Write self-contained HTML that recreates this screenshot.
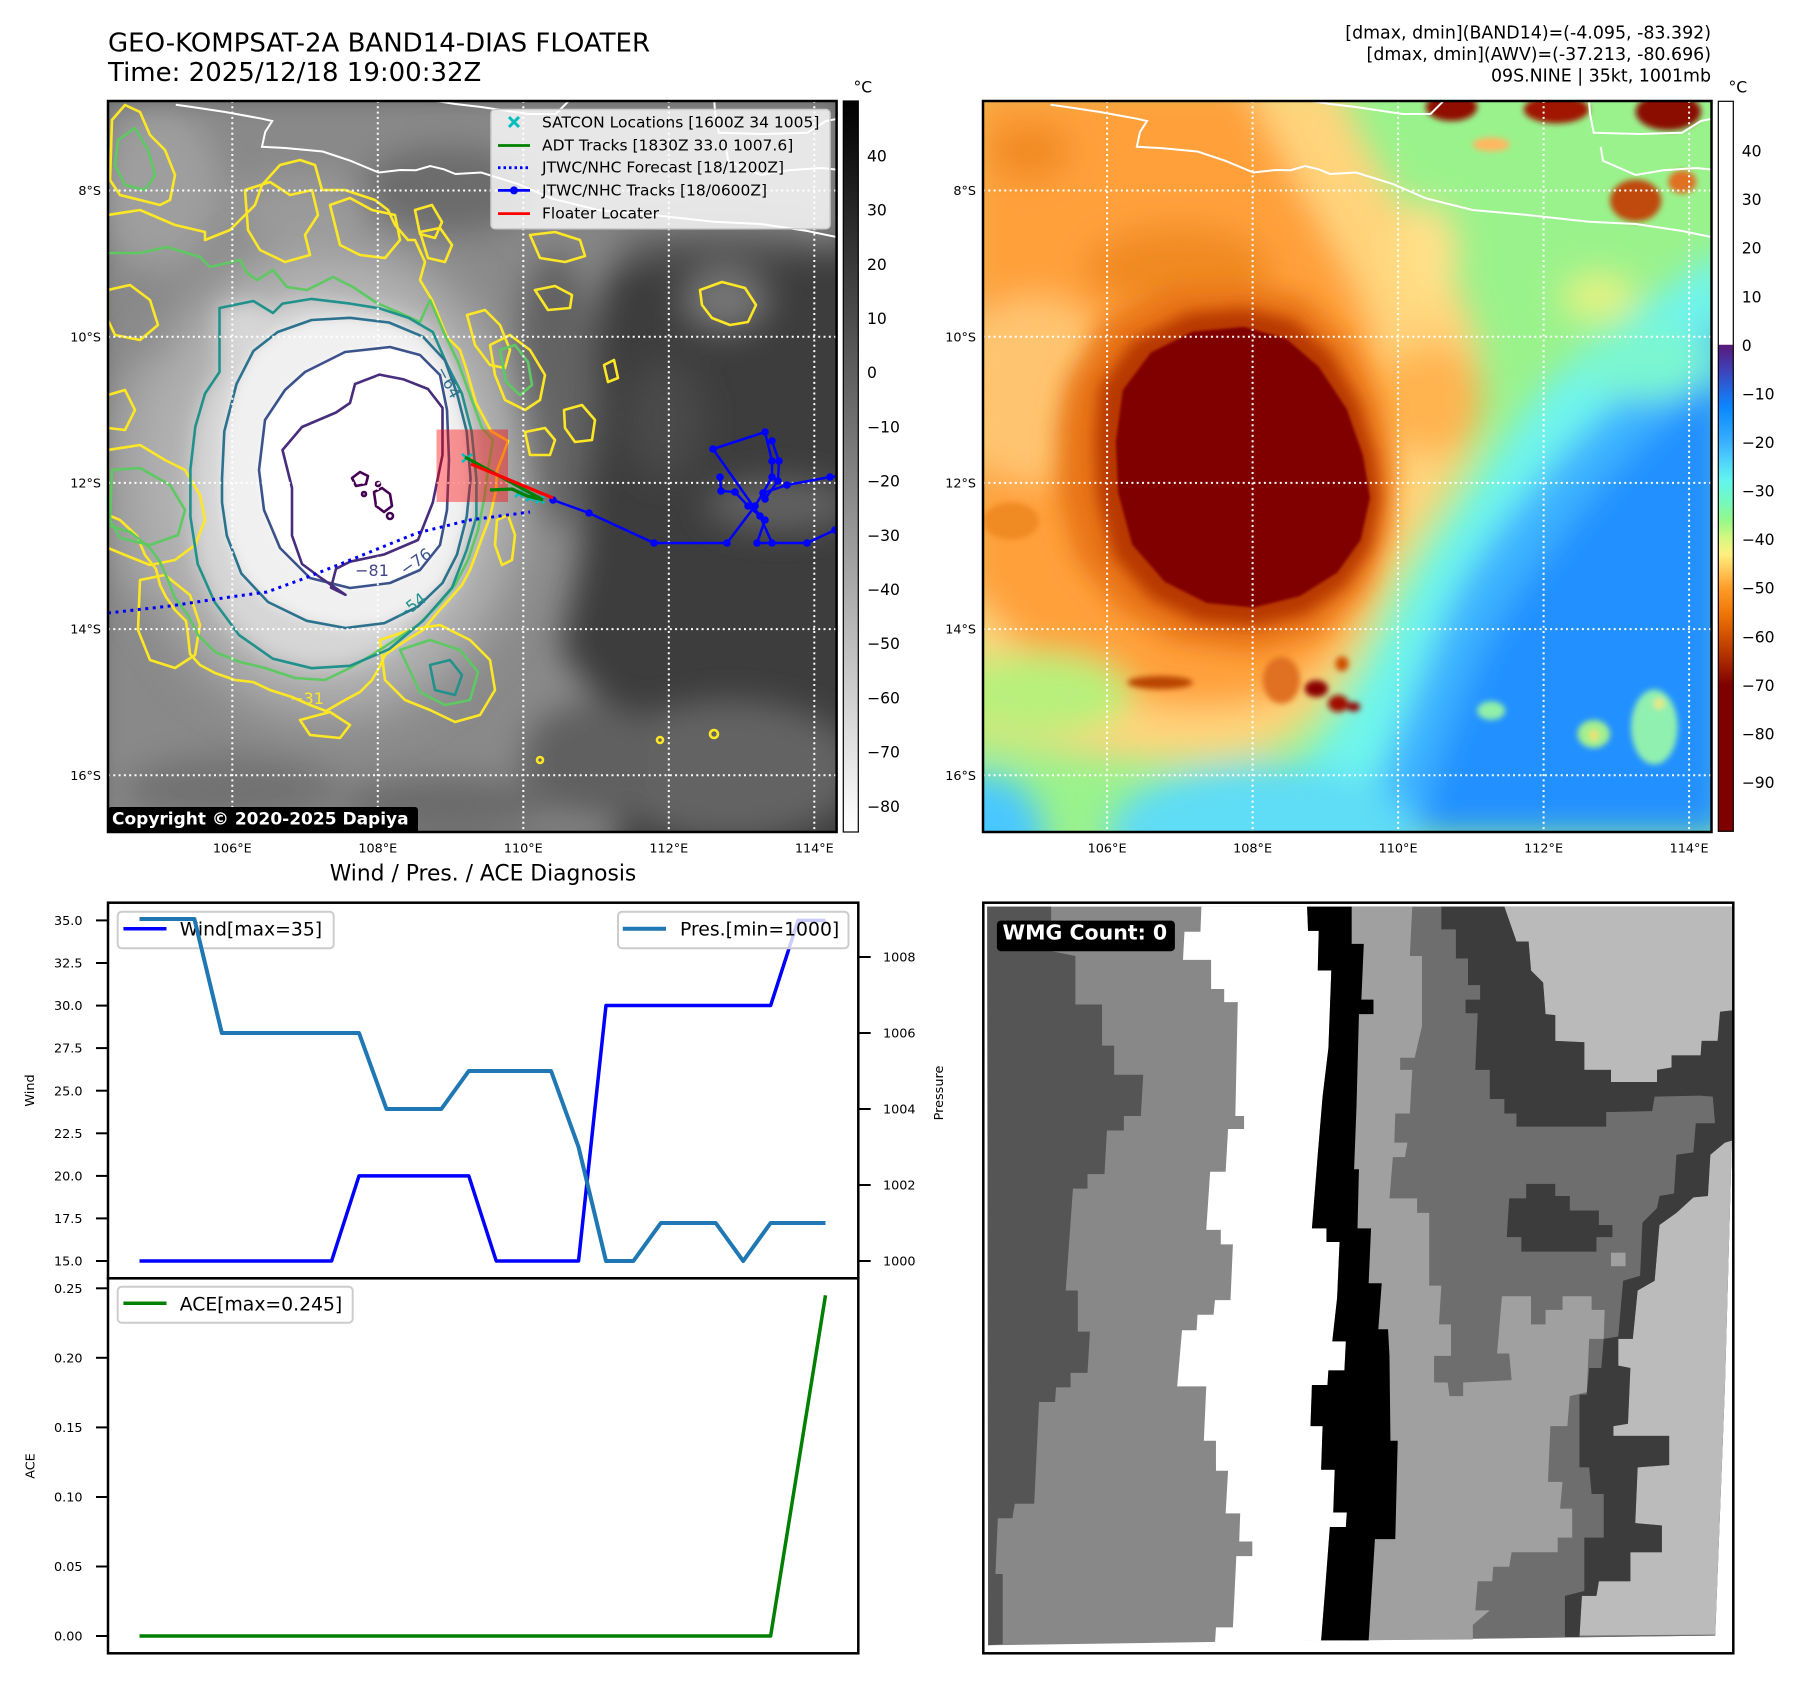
<!DOCTYPE html>
<html><head><meta charset="utf-8"><style>
html,body{margin:0;padding:0;background:#fff;}
svg{display:block;}
text{font-family:"DejaVu Sans","Liberation Sans",sans-serif;}
</style></head><body>
<svg xmlns="http://www.w3.org/2000/svg" width="1801" height="1690" viewBox="0 0 1801 1690">
<defs>
<clipPath id="cm1"><rect x="108" y="101" width="728.6" height="731"/></clipPath>
<clipPath id="cm2"><rect x="983" y="101" width="728.5" height="731"/></clipPath>
<clipPath id="cbr"><rect x="983.3" y="902.7" width="750" height="750.6"/></clipPath>
<clipPath id="cup"><rect x="108" y="902.7" width="750.3" height="375.6"/></clipPath>
<clipPath id="clo"><rect x="108" y="1278.3" width="750.3" height="375"/></clipPath>
<filter id="g3" x="-50%" y="-50%" width="200%" height="200%"><feGaussianBlur stdDeviation="3"/></filter>
<filter id="g6" x="-50%" y="-50%" width="200%" height="200%"><feGaussianBlur stdDeviation="6"/></filter>
<filter id="g10" x="-50%" y="-50%" width="200%" height="200%"><feGaussianBlur stdDeviation="10"/></filter>
<filter id="g16" x="-50%" y="-50%" width="200%" height="200%"><feGaussianBlur stdDeviation="16"/></filter>
<filter id="g25" x="-50%" y="-50%" width="200%" height="200%"><feGaussianBlur stdDeviation="25"/></filter>
<filter id="g35" x="-50%" y="-50%" width="200%" height="200%"><feGaussianBlur stdDeviation="35"/></filter>
<linearGradient id="cb1" x1="0" y1="0" x2="0" y2="1"><stop offset="0" stop-color="#000"/><stop offset="1" stop-color="#fff"/></linearGradient>
<linearGradient id="cb2" x1="0" y1="0" x2="0" y2="1">
<stop offset="0" stop-color="#fff"/><stop offset="0.333" stop-color="#fff"/>
<stop offset="0.334" stop-color="#58197a"/><stop offset="0.367" stop-color="#4040b8"/>
<stop offset="0.4" stop-color="#1e6ee8"/><stop offset="0.42" stop-color="#0a88ff"/>
<stop offset="0.467" stop-color="#38b0ff"/><stop offset="0.5" stop-color="#55dcf8"/>
<stop offset="0.52" stop-color="#62f6ee"/><stop offset="0.547" stop-color="#72f8c0"/>
<stop offset="0.573" stop-color="#94f88c"/><stop offset="0.6" stop-color="#d8f880"/>
<stop offset="0.62" stop-color="#fff080"/><stop offset="0.647" stop-color="#ffc050"/>
<stop offset="0.667" stop-color="#ff9c28"/><stop offset="0.7" stop-color="#f07808"/>
<stop offset="0.733" stop-color="#d05000"/><stop offset="0.767" stop-color="#a82800"/>
<stop offset="0.8" stop-color="#800000"/><stop offset="1" stop-color="#800000"/>
</linearGradient>
</defs>

<!-- Titles -->
<text x="108" y="51.5" font-size="26" fill="#000">GEO-KOMPSAT-2A BAND14-DIAS FLOATER</text>
<text x="108" y="81" font-size="26" fill="#000">Time: 2025/12/18 19:00:32Z</text>
<text x="1711" y="38.5" font-size="17.4" text-anchor="end" fill="#000">[dmax, dmin](BAND14)=(-4.095, -83.392)</text>
<text x="1711" y="60" font-size="17.4" text-anchor="end" fill="#000">[dmax, dmin](AWV)=(-37.213, -80.696)</text>
<text x="1711" y="81.5" font-size="17.4" text-anchor="end" fill="#000">09S.NINE | 35kt, 1001mb</text>

<!-- ================= MAP 1 ================= -->
<g clip-path="url(#cm1)">
<rect x="108" y="101" width="729" height="731" fill="#3d3d3d"/>
<g filter="url(#g16)">
<path d="M90,90 L620,90 L620,240 L600,300 L590,420 L580,560 L560,650 L600,700 L620,850 L90,850 Z" fill="#898989"/>
<path d="M560,90 H850 V250 L640,262 L560,270 Z" fill="#868686"/>
<ellipse cx="450" cy="190" rx="90" ry="45" fill="#6c6c6c"/>
<ellipse cx="555" cy="390" rx="45" ry="140" fill="#626262"/>
<ellipse cx="160" cy="190" rx="60" ry="80" fill="#9e9e9e"/>
<ellipse cx="300" cy="210" rx="70" ry="35" fill="#999"/>
<ellipse cx="725" cy="300" rx="45" ry="32" fill="#747474"/>
<ellipse cx="665" cy="420" rx="40" ry="60" fill="#484848"/>
<ellipse cx="780" cy="505" rx="75" ry="26" fill="#626262"/>
<ellipse cx="730" cy="770" rx="130" ry="70" fill="#646464"/>
<ellipse cx="590" cy="760" rx="70" ry="60" fill="#606060"/>
<ellipse cx="230" cy="790" rx="110" ry="35" fill="#727272"/>
<ellipse cx="450" cy="805" rx="110" ry="30" fill="#6a6a6a"/>
<ellipse cx="150" cy="480" rx="50" ry="120" fill="#9a9a9a"/>
<ellipse cx="720" cy="245" rx="110" ry="18" fill="#5a5a5a"/>
</g>
<!-- storm -->
<ellipse cx="330" cy="480" rx="195" ry="235" fill="#b2b2b2" filter="url(#g25)"/>
<path d="M219.5,372 L219.5,308 L253.4,301 L273,313 L282.5,303.6 L311.6,298.9 L350,303.6 L379.4,308.3 L408.5,317.8 L432.8,332 L447.3,365 L461.9,393.6 L471.6,431.4 L476.4,478.8 L476.4,516.7 L466.7,549.8 L452,587.7 L423,620.8 L389,649.2 L350,665.8 L311.6,668.2 L272.8,658.7 L239,635 L214.6,602 L197.7,564 L190.4,516.7 L190.4,469.3 L195.3,426.7 L205,393.6 Z" fill="#d6d6d6" filter="url(#g10)"/>
<path d="M222,478.8 L224.3,431.4 L236.5,384 L253.4,351 L277.7,332 L311.6,320 L350,317.8 L389,322.5 L423,336.7 L445,360.4 L457,393.6 L466.7,431.4 L470.6,478.8 L466.7,516.7 L457,554.5 L442.5,583 L418,606.6 L384.3,623.2 L345.5,628 L306.7,620.8 L268,602 L241.3,573.5 L226.8,535.6 L222,502.5 Z" fill="#f0f0f0" filter="url(#g6)"/>
<path d="M259,470 L265,420 L285,390 L305,372 L345,352 L390,347 L420,355 L440,375 L447,410 L449,460 L447,510 L440,545 L420,570 L390,583 L350,588 L310,578 L280,548 L264,510 Z" fill="#fff" filter="url(#g3)"/>

<!-- contours -->
<g fill="none" stroke-width="2.6" stroke-linejoin="round">
<g stroke="#fde725">
<path d="M108,215 L140,210 L175,225 L205,232 L205,240 L230,230 L245,215 L255,205 L262,185 L280,165 L300,160 L315,165 L322,190 L345,190 L360,195 L375,200 L388,210 L395,225 L408,240 L415,240 L425,262 L420,280 L432,300 L447,337 L460,350 L466,368 L476,403 L491,431 L508,441 L503,455 L497,470 L496,490 L490,517 L483,535 L476,554 L470,570 L462,585 L447,602 L438,612 L423,630 L410,638 L399,645 L385,655 L379,668 L372,680 L360,692 L345,700 L326,711 L310,705 L292,697 L270,690 L253,682 L235,680 L215,673 L200,665 L190,654 L188,635 L186,621 L175,610 L166,597 L160,585 L156,569 L145,555 L137,536 L120,520 L108,515"/>
<path d="M112,120 L125,105 L140,112 L150,135 L165,150 L175,175 L170,200 L160,205 L140,200 L120,195 L110,180 Z"/>
<path d="M245,190 L270,182 L290,195 L312,190 L318,215 L305,235 L310,255 L285,262 L260,250 L248,230 Z"/>
<path d="M330,205 L350,198 L372,210 L395,215 L400,240 L385,258 L360,255 L340,245 Z"/>
<path d="M415,210 L432,205 L442,222 L435,238 L420,234 Z"/>
<path d="M108,290 L130,285 L150,300 L158,325 L140,340 L115,335 L108,320 Z"/>
<path d="M108,395 L125,390 L135,410 L125,430 L108,428 Z"/>
<path d="M108,450 L140,445 L165,460 L185,470 L200,495 L205,520 L195,545 L175,560 L150,565 L125,555 L108,548 Z"/>
<path d="M140,580 L165,575 L190,595 L200,625 L195,655 L175,668 L150,660 L138,630 Z"/>
<path d="M467,315 L485,310 L500,325 L510,350 L505,368 L490,365 L475,345 Z"/>
<path d="M490,345 L510,335 L530,350 L545,375 L540,400 L525,410 L505,400 L495,375 Z"/>
<path d="M525,432 L545,428 L555,440 L550,455 L530,455 Z"/>
<path d="M564,410 L582,405 L595,420 L592,440 L575,442 L565,428 Z"/>
<path d="M700,290 L722,282 L745,288 L756,305 L748,322 L730,325 L712,318 L702,305 Z"/>
<path d="M530,235 L555,232 L580,240 L585,256 L565,262 L540,258 Z"/>
<path d="M535,290 L555,286 L572,295 L570,308 L548,310 Z"/>
<path d="M420,232 L440,228 L452,245 L445,262 L428,258 Z"/>
<path d="M497,520 L508,515 L515,535 L512,560 L502,565 L495,545 Z"/>
<path d="M380,640 L410,630 L440,625 L470,640 L490,660 L495,690 L480,715 L455,722 L430,710 L405,700 L385,680 Z"/>
<path d="M300,720 L330,712 L350,725 L340,738 L310,735 Z"/>
<path d="M604,365 L614,360 L618,378 L608,382 Z"/>
<circle cx="714" cy="734" r="4"/><circle cx="660" cy="740" r="3"/><circle cx="540" cy="760" r="3"/>
</g>
<g stroke="#5ec962">
<path d="M108,253 L140,253 L167,247 L200,257 L210,267 L240,260 L247,273 L257,280 L273,270 L287,287 L307,290 L333,277 L353,287 L377,303 L400,313 L420,322 L430,300 L445,335 L458,362 L470,395 L482,428 L493,440 L488,470 L484,500 L478,530 L468,560 L455,585 L438,605 L418,625 L395,640 L372,655 L350,668 L325,680 L295,678 L265,668 L240,662 L215,652 L198,635 L188,615 L175,598 L168,580 L160,562 L150,548 L130,532 L108,525"/>
<path d="M118,140 L135,128 L148,150 L155,175 L145,190 L125,185 L115,165 Z"/>
<path d="M112,470 L140,468 L170,485 L185,510 L178,535 L150,545 L120,538 L110,520 Z"/>
<path d="M500,350 L515,345 L528,362 L532,385 L520,395 L506,382 Z"/>
<path d="M400,650 L430,640 L460,650 L478,672 L470,700 L445,705 L420,692 Z"/>
</g>
<path stroke="#21918c" d="M219.5,372 L219.5,308 L253.4,301 L273,313 L282.5,303.6 L311.6,298.9 L350,303.6 L379.4,308.3 L408.5,317.8 L432.8,332 L447.3,365 L461.9,393.6 L471.6,431.4 L476.4,478.8 L476.4,516.7 L466.7,549.8 L452,587.7 L423,620.8 L389,649.2 L350,665.8 L311.6,668.2 L272.8,658.7 L239,635 L214.6,602 L197.7,564 L190.4,516.7 L190.4,469.3 L195.3,426.7 L205,393.6 Z"/>
<path stroke="#21918c" d="M430,665 L450,660 L462,675 L455,695 L435,690 Z"/>
<path stroke="#2c728e" d="M222,478.8 L224.3,431.4 L236.5,384 L253.4,351 L277.7,332 L311.6,320 L350,317.8 L389,322.5 L423,336.7 L445,360.4 L457,393.6 L466.7,431.4 L470.6,478.8 L466.7,516.7 L457,554.5 L442.5,583 L418,606.6 L384.3,623.2 L345.5,628 L306.7,620.8 L268,602 L241.3,573.5 L226.8,535.6 L222,502.5 Z"/>
<path stroke="#3b528b" d="M259,470 L265,420 L285,390 L305,372 L345,352 L390,347 L420,355 L440,375 L447,410 L449,460 L447,510 L440,545 L420,570 L390,583 L350,588 L310,578 L280,548 L264,510 Z"/>
<path stroke="#472d7b" d="M292,488 L282.5,450 L302,427 L336,412.5 L350,403 L355,384 L379.5,374.6 L403.7,379.4 L428,389 L442.5,407.8 L442.5,455 L432.8,502.5 L418,540 L384,554.5 L350,561.7 L336,568.8 L331,587.7 L345.5,594.8 L321,578 L302,564 L292,535.6 Z"/>
<g stroke="#440154">
<path d="M352,478 L360,472 L368,476 L366,484 L356,486 Z"/>
<path d="M374,492 L382,488 L390,494 L392,506 L384,512 L376,506 Z"/>
<circle cx="378" cy="484" r="2"/><circle cx="364" cy="494" r="2"/><circle cx="390" cy="516" r="3"/>
</g>
</g>
<text x="372" y="576" font-size="16" text-anchor="middle" fill="#414487">−81</text>
<text x="416" y="567" font-size="16" text-anchor="middle" fill="#3b528b" transform="rotate(-35 416 562)">−76</text>
<text x="449" y="388" font-size="16" text-anchor="middle" fill="#2c728e" transform="rotate(62 449 382)">−64</text>
<text x="411" y="612" font-size="16" text-anchor="middle" fill="#21918c" transform="rotate(-38 411 607)">−54</text>
<text x="307" y="704" font-size="16" text-anchor="middle" fill="#fde725">−31</text>

<!-- gridlines -->
<g stroke="#fff" stroke-width="2" stroke-dasharray="2 3.3">
<line x1="232.3" y1="101" x2="232.3" y2="832"/><line x1="377.8" y1="101" x2="377.8" y2="832"/>
<line x1="523.3" y1="101" x2="523.3" y2="832"/><line x1="668.8" y1="101" x2="668.8" y2="832"/>
<line x1="814.3" y1="101" x2="814.3" y2="832"/>
<line x1="108" y1="190.5" x2="837" y2="190.5"/><line x1="108" y1="336.7" x2="837" y2="336.7"/>
<line x1="108" y1="482.9" x2="837" y2="482.9"/><line x1="108" y1="629.1" x2="837" y2="629.1"/>
<line x1="108" y1="775.3" x2="837" y2="775.3"/>
</g>
<path transform="translate(-874.8 0)" fill="none" stroke="#fff" stroke-width="2" d="M1050.6,104.7 L1066.9,107 L1100,112 L1136.8,118.7 L1147,121 L1140,132 L1136.8,146.8 L1160,148 L1197.5,151.5 L1225.4,160.8 L1253.4,172.5 L1275,170 L1290.7,170.2 L1305,166 L1318.7,169.3 L1330.3,174 L1356,172.5 L1393.3,184.2 L1425.9,198.3 L1472.5,210 L1523.8,214.6 L1589,221.7 L1635.7,224 L1682.3,231 L1716,238 M1304.7,100 L1330,104 L1356,107 L1402.6,114 L1430.5,114 L1444.5,100 M1589,100 L1590,114 L1593.7,132.8 L1640,134 L1682,132.8 L1701,121 L1716,118 M1600.7,146.8 L1603,160.8 L1635.7,175 L1663.6,170.2 L1696,168 L1716,170"/>

<!-- tracks -->
<rect x="436.5" y="429.5" width="71.5" height="72.5" fill="#ff0000" fill-opacity="0.4"/>
<path d="M108,613 L170,606 L230,597 L267,592 L300,580 L333,567 L375,550 L417,533 L470,520 L530,512" fill="none" stroke="#0000ff" stroke-width="3" stroke-dasharray="3 4.5"/>
<g fill="none" stroke="#0000ff" stroke-width="2.5">
<path d="M553,500 L589,513 L654,543 L727,543 L755,506 L763,493 L787,485 L830,477 L840,476"/>
<path d="M713,449 L765,432 L772,461 L772,477 L763,493"/>
<path d="M713,449 L760,516 L772,543 L807,543 L835,530 L840,528"/>
<path d="M772,441 L779,461 L778,481 L765,499"/>
<path d="M720,477 L721,491 L735,492 L748,506 L765,520 L757,543 L772,543"/>
</g>
<g fill="#0000ff">
<circle cx="553" cy="500" r="3.8"/><circle cx="589" cy="513" r="3.8"/><circle cx="654" cy="543" r="3.8"/><circle cx="727" cy="543" r="3.8"/>
<circle cx="755" cy="506" r="3.8"/><circle cx="763" cy="493" r="3.8"/><circle cx="787" cy="485" r="3.8"/><circle cx="830" cy="477" r="3.8"/>
<circle cx="713" cy="449" r="3.8"/><circle cx="765" cy="432" r="3.8"/><circle cx="772" cy="441" r="3.8"/><circle cx="772" cy="461" r="3.8"/>
<circle cx="779" cy="461" r="3.8"/><circle cx="778" cy="481" r="3.8"/><circle cx="772" cy="477" r="3.8"/><circle cx="765" cy="499" r="3.8"/>
<circle cx="760" cy="516" r="3.8"/><circle cx="772" cy="543" r="3.8"/><circle cx="757" cy="543" r="3.8"/><circle cx="807" cy="543" r="3.8"/>
<circle cx="835" cy="530" r="3.8"/><circle cx="720" cy="477" r="3.8"/><circle cx="721" cy="491" r="3.8"/><circle cx="735" cy="492" r="3.8"/>
<circle cx="748" cy="506" r="3.8"/><circle cx="765" cy="520" r="3.8"/>
</g>
<g stroke="#00bfbf" stroke-width="2.5">
<path d="M462,454 L472,462 M462,462 L472,454 M515,490 L523,497 M515,497 L523,490 M526,494 L534,501 M526,501 L534,494 M536,496 L544,503 M536,503 L544,496"/>
</g>
<path d="M465,457 L543,500 M490,490 L512,489 L527,496 L543,500" fill="none" stroke="#008000" stroke-width="3.2"/>
<path d="M471,464 L553,498" stroke="#ff0000" stroke-width="3.2"/>

<!-- legend -->
<rect x="491" y="109.5" width="339" height="119.3" rx="4" fill="#fff" fill-opacity="0.8" stroke="#cccccc" stroke-width="1.5"/>
<path d="M509,117 L519,127 M509,127 L519,117" stroke="#00bfbf" stroke-width="3"/>
<line x1="498" y1="145.5" x2="530" y2="145.5" stroke="#008000" stroke-width="2.8"/>
<line x1="498" y1="167.7" x2="530" y2="167.7" stroke="#0000ff" stroke-width="2.8" stroke-dasharray="2.5 3"/>
<line x1="498" y1="190.4" x2="530" y2="190.4" stroke="#0000ff" stroke-width="2.8"/>
<circle cx="514" cy="190.4" r="4" fill="#0000ff"/>
<line x1="498" y1="213.6" x2="530" y2="213.6" stroke="#ff0000" stroke-width="2.8"/>
<g font-size="15.5" fill="#000">
<text x="542" y="127.3">SATCON Locations [1600Z 34 1005]</text>
<text x="542" y="150.5">ADT Tracks [1830Z 33.0 1007.6]</text>
<text x="542" y="172.7">JTWC/NHC Forecast [18/1200Z]</text>
<text x="542" y="195.4">JTWC/NHC Tracks [18/0600Z]</text>
<text x="542" y="218.6">Floater Locater</text>
</g>
<rect x="108" y="807" width="310" height="28" rx="3" fill="#000"/>
<text x="112" y="824.5" font-size="17" font-weight="bold" fill="#fff">Copyright © 2020-2025 Dapiya</text>
</g>
<rect x="108" y="101" width="728.6" height="731" fill="none" stroke="#000" stroke-width="2.5"/>

<!-- map labels -->
<g font-size="12.8" fill="#000" text-anchor="end">
<text x="101" y="195.1">8°S</text><text x="101" y="341.3">10°S</text><text x="101" y="487.5">12°S</text>
<text x="101" y="633.7">14°S</text><text x="101" y="779.9">16°S</text>
<text x="976" y="195.1">8°S</text><text x="976" y="341.3">10°S</text><text x="976" y="487.5">12°S</text>
<text x="976" y="633.7">14°S</text><text x="976" y="779.9">16°S</text>
</g>
<g font-size="12.8" fill="#000" text-anchor="middle">
<text x="232.3" y="852.5">106°E</text><text x="377.8" y="852.5">108°E</text><text x="523.3" y="852.5">110°E</text>
<text x="668.8" y="852.5">112°E</text><text x="814.3" y="852.5">114°E</text>
<text x="1107.1" y="852.5">106°E</text><text x="1252.6" y="852.5">108°E</text><text x="1398.1" y="852.5">110°E</text>
<text x="1543.6" y="852.5">112°E</text><text x="1689.1" y="852.5">114°E</text>
</g>

<!-- colorbar 1 -->
<rect x="843.3" y="101" width="15" height="731" fill="url(#cb1)" stroke="#000" stroke-width="1.2"/>
<text x="853.5" y="92.5" font-size="15.6" fill="#000">°C</text>
<g font-size="15.6" fill="#000">
<text x="867" y="161.4">40</text><text x="867" y="215.6">30</text><text x="867" y="269.8">20</text>
<text x="867" y="324">10</text><text x="867" y="378.2">0</text><text x="867" y="432.4">−10</text>
<text x="867" y="486.6">−20</text><text x="867" y="540.8">−30</text><text x="867" y="595">−40</text>
<text x="867" y="649.2">−50</text><text x="867" y="703.4">−60</text><text x="867" y="757.6">−70</text>
<text x="867" y="811.8">−80</text>
</g>

<!-- ================= MAP 2 ================= -->
<g clip-path="url(#cm2)">
<g transform="translate(983 100) scale(0.4662 0.4679)">
<rect x="0" y="0" width="1570" height="1570" fill="#9af28c"/>
<g filter="url(#g35)">
<path d="M1568,330 C1450,420 1300,520 1200,620 C1120,720 1050,830 960,960 C890,1070 820,1250 700,1400 L560,1570 H1600 V330 Z" fill="#70f4ec"/>
<path d="M1568,480 C1450,560 1330,660 1220,780 C1130,880 1050,980 1000,1080 C950,1200 880,1380 800,1570 H1600 V480 Z" fill="#3cb2ff"/>
<path d="M1600,600 L1568,600 C1460,680 1360,780 1280,880 C1190,990 1110,1090 1060,1200 C1010,1320 960,1450 930,1570 H1600 Z" fill="#2290ff"/>
<ellipse cx="600" cy="1570" rx="330" ry="150" fill="#5edcf6"/>
<ellipse cx="0" cy="1580" rx="130" ry="140" fill="#48c8ff"/>
<path d="M-40,-40 H760 C820,120 920,260 1010,390 C1080,500 1080,640 1040,760 C980,880 900,970 850,1080 C800,1200 730,1330 600,1390 C420,1430 180,1400 -40,1360 Z" fill="#ffd47c"/>
<path d="M-40,-40 H560 C640,120 720,250 790,380 C860,520 880,700 860,900 C840,1080 760,1220 600,1285 C450,1320 250,1290 120,1200 C60,1150 20,1100 -40,1040 Z" fill="#ffa03a"/>
<ellipse cx="110" cy="620" rx="190" ry="200" fill="#ffc470"/>
<ellipse cx="120" cy="1270" rx="200" ry="90" fill="#b8f07c"/>
<ellipse cx="960" cy="640" rx="110" ry="120" fill="#ffb450"/>
<ellipse cx="950" cy="330" rx="70" ry="110" fill="#ffe088"/>
<ellipse cx="1320" cy="420" rx="80" ry="50" fill="#e6f282"/>
<ellipse cx="1420" cy="560" rx="150" ry="80" fill="#7cf6d0"/>
<ellipse cx="420" cy="360" rx="200" ry="90" fill="#f08a22"/>
<ellipse cx="100" cy="110" rx="90" ry="60" fill="#f08a24"/>
</g>
<path d="M180,600 L260,470 L400,400 L560,390 L690,420 L790,520 L850,650 L880,790 L870,920 L820,1040 L720,1140 L580,1180 L420,1160 L290,1090 L200,980 L160,840 L160,700 Z" fill="#e87416" filter="url(#g25)"/>
<path d="M250,615 L320,515 L440,455 L560,445 L665,470 L745,540 L805,645 L840,760 L852,855 L830,960 L775,1040 L690,1100 L580,1125 L465,1115 L360,1065 L280,975 L245,850 L240,725 Z" fill="#b83800" filter="url(#g16)"/>
<path d="M300,620 L360,540 L450,495 L560,485 L650,510 L720,570 L780,660 L815,760 L830,850 L810,940 L760,1010 L680,1060 L580,1085 L480,1075 L390,1030 L320,950 L290,840 L285,730 Z" fill="#800000" filter="url(#g3)"/>
<g filter="url(#g6)">
<ellipse cx="1005" cy="15" rx="55" ry="30" fill="#900800"/>
<ellipse cx="1230" cy="20" rx="70" ry="30" fill="#a01800"/>
<ellipse cx="1470" cy="25" rx="70" ry="40" fill="#8a0800"/>
<ellipse cx="1400" cy="215" rx="55" ry="45" fill="#c04808"/>
<ellipse cx="1500" cy="175" rx="30" ry="25" fill="#e07020"/>
<ellipse cx="1090" cy="95" rx="40" ry="15" fill="#ffb860"/>
<ellipse cx="715" cy="1258" rx="25" ry="18" fill="#8a0000"/>
<ellipse cx="762" cy="1290" rx="22" ry="18" fill="#a01000"/>
<ellipse cx="795" cy="1297" rx="14" ry="10" fill="#900000"/>
<ellipse cx="770" cy="1205" rx="14" ry="16" fill="#d05000"/>
<ellipse cx="640" cy="1240" rx="40" ry="50" fill="#e07020"/>
<ellipse cx="380" cy="1245" rx="70" ry="14" fill="#b84400"/>
<ellipse cx="1440" cy="1340" rx="50" ry="80" fill="#90f0b0"/>
<ellipse cx="1450" cy="1290" rx="12" ry="12" fill="#e8e880"/>
<ellipse cx="1310" cy="1355" rx="35" ry="30" fill="#a0f090"/>
<ellipse cx="1310" cy="1358" rx="10" ry="12" fill="#f0e070"/>
<ellipse cx="1090" cy="1305" rx="30" ry="20" fill="#90f0a8"/>
<ellipse cx="60" cy="900" rx="60" ry="40" fill="#f08a24"/>
</g>
</g>
<!-- grid -->
<g stroke="#fff" stroke-width="2" stroke-dasharray="2 3.3">
<line x1="1107.1" y1="101" x2="1107.1" y2="832"/><line x1="1252.6" y1="101" x2="1252.6" y2="832"/>
<line x1="1398.1" y1="101" x2="1398.1" y2="832"/><line x1="1543.6" y1="101" x2="1543.6" y2="832"/>
<line x1="1689.1" y1="101" x2="1689.1" y2="832"/>
<line x1="983" y1="190.5" x2="1712" y2="190.5"/><line x1="983" y1="336.7" x2="1712" y2="336.7"/>
<line x1="983" y1="482.9" x2="1712" y2="482.9"/><line x1="983" y1="629.1" x2="1712" y2="629.1"/>
<line x1="983" y1="775.3" x2="1712" y2="775.3"/>
</g>
<path fill="none" stroke="#fff" stroke-width="2" d="M1050.6,104.7 L1066.9,107 L1100,112 L1136.8,118.7 L1147,121 L1140,132 L1136.8,146.8 L1160,148 L1197.5,151.5 L1225.4,160.8 L1253.4,172.5 L1275,170 L1290.7,170.2 L1305,166 L1318.7,169.3 L1330.3,174 L1356,172.5 L1393.3,184.2 L1425.9,198.3 L1472.5,210 L1523.8,214.6 L1589,221.7 L1635.7,224 L1682.3,231 L1716,238 M1304.7,100 L1330,104 L1356,107 L1402.6,114 L1430.5,114 L1444.5,100 M1589,100 L1590,114 L1593.7,132.8 L1640,134 L1682,132.8 L1701,121 L1716,118 M1600.7,146.8 L1603,160.8 L1635.7,175 L1663.6,170.2 L1696,168 L1716,170"/>
</g>
<rect x="983" y="101" width="728.5" height="731" fill="none" stroke="#000" stroke-width="2.5"/>

<!-- colorbar 2 -->
<rect x="1718.3" y="101.3" width="15" height="730" fill="url(#cb2)" stroke="#000" stroke-width="1.2"/>
<text x="1728.5" y="92.5" font-size="15.6" fill="#000">°C</text>
<g font-size="15.6" fill="#000">
<text x="1741.7" y="156.6">40</text><text x="1741.7" y="205.2">30</text><text x="1741.7" y="253.7">20</text>
<text x="1741.7" y="302.3">10</text><text x="1741.7" y="350.9">0</text><text x="1741.7" y="399.5">−10</text>
<text x="1741.7" y="448">−20</text><text x="1741.7" y="496.6">−30</text><text x="1741.7" y="545.2">−40</text>
<text x="1741.7" y="593.7">−50</text><text x="1741.7" y="642.3">−60</text><text x="1741.7" y="690.9">−70</text>
<text x="1741.7" y="739.5">−80</text><text x="1741.7" y="788">−90</text>
</g>

<!-- ================= BOTTOM LEFT ================= -->
<text x="483" y="880.5" font-size="21.8" text-anchor="middle" fill="#000">Wind / Pres. / ACE Diagnosis</text>
<g clip-path="url(#cup)">
<path d="M139.5,1261 L331.58,1261 L359.02,1175.85 L468.78,1175.85 L496.22,1261 L578.54,1261 L605.98,1005.55 L770.62,1005.55 L798.06,920.4 L825.5,920.4" fill="none" stroke="#0000ff" stroke-width="3.5" stroke-linejoin="round"/>
<rect x="117.7" y="911.7" width="216" height="36.6" rx="4" fill="#fff" fill-opacity="0.8" stroke="#cccccc" stroke-width="2"/>
<line x1="123.4" y1="928.7" x2="166.5" y2="928.7" stroke="#0000ff" stroke-width="3.5"/>
<text x="179.7" y="935.6" font-size="18.8" fill="#000">Wind[max=35]</text>
<path d="M139.5,919 L194.38,919 L221.82,1033 L359.02,1033 L386.46,1109 L441.34,1109 L468.78,1071 L551.1,1071 L578.54,1147 L605.98,1261 L633.42,1261 L660.86,1223 L715.74,1223 L743.18,1261 L770.62,1223 L825.5,1223" fill="none" stroke="#1f77b4" stroke-width="4" stroke-linejoin="round"/>
<rect x="618" y="911.7" width="230.5" height="36.6" rx="4" fill="#fff" fill-opacity="0.8" stroke="#cccccc" stroke-width="2"/>
<line x1="622.8" y1="928.7" x2="666" y2="928.7" stroke="#1f77b4" stroke-width="4"/>
<text x="680" y="935.6" font-size="18.8" fill="#000">Pres.[min=1000]</text>
</g>
<g clip-path="url(#clo)">
<path d="M139.5,1636 L770.62,1636 L825.5,1295.3" fill="none" stroke="#008000" stroke-width="3.5" stroke-linejoin="round"/>
<rect x="117.7" y="1286.7" width="235" height="36" rx="4" fill="#fff" fill-opacity="0.8" stroke="#cccccc" stroke-width="2"/>
<line x1="123.4" y1="1303.3" x2="166.5" y2="1303.3" stroke="#008000" stroke-width="3.5"/>
<text x="179.7" y="1310.5" font-size="18.8" fill="#000">ACE[max=0.245]</text>
</g>
<rect x="108" y="902.7" width="750.3" height="375.6" fill="none" stroke="#000" stroke-width="2.5"/>
<rect x="108" y="1278.3" width="750.3" height="375" fill="none" stroke="#000" stroke-width="2.5"/>
<g stroke="#000" stroke-width="2">
<line x1="96" y1="1261" x2="108" y2="1261"/><line x1="96" y1="1218.4" x2="108" y2="1218.4"/>
<line x1="96" y1="1175.9" x2="108" y2="1175.9"/><line x1="96" y1="1133.3" x2="108" y2="1133.3"/>
<line x1="96" y1="1090.7" x2="108" y2="1090.7"/><line x1="96" y1="1048.1" x2="108" y2="1048.1"/>
<line x1="96" y1="1005.6" x2="108" y2="1005.6"/><line x1="96" y1="963" x2="108" y2="963"/>
<line x1="96" y1="920.4" x2="108" y2="920.4"/>
<line x1="858.3" y1="1261" x2="870.7" y2="1261"/><line x1="858.3" y1="1185" x2="870.7" y2="1185"/>
<line x1="858.3" y1="1109" x2="870.7" y2="1109"/><line x1="858.3" y1="1033" x2="870.7" y2="1033"/>
<line x1="858.3" y1="957" x2="870.7" y2="957"/>
<line x1="96" y1="1636" x2="108" y2="1636"/><line x1="96" y1="1566.5" x2="108" y2="1566.5"/>
<line x1="96" y1="1497" x2="108" y2="1497"/><line x1="96" y1="1427.4" x2="108" y2="1427.4"/>
<line x1="96" y1="1357.8" x2="108" y2="1357.8"/><line x1="96" y1="1288.3" x2="108" y2="1288.3"/>
</g>
<g font-size="12.8" fill="#000" text-anchor="end">
<text x="82.5" y="1265.6">15.0</text><text x="82.5" y="1223">17.5</text><text x="82.5" y="1180.5">20.0</text>
<text x="82.5" y="1137.9">22.5</text><text x="82.5" y="1095.3">25.0</text><text x="82.5" y="1052.7">27.5</text>
<text x="82.5" y="1010.2">30.0</text><text x="82.5" y="967.6">32.5</text><text x="82.5" y="925">35.0</text>
<text x="82.5" y="1640.6">0.00</text><text x="82.5" y="1571.1">0.05</text><text x="82.5" y="1501.6">0.10</text>
<text x="82.5" y="1432">0.15</text><text x="82.5" y="1362.4">0.20</text><text x="82.5" y="1292.9">0.25</text>
</g>
<g font-size="12.8" fill="#000">
<text x="883" y="1265.6">1000</text><text x="883" y="1189.6">1002</text><text x="883" y="1113.6">1004</text>
<text x="883" y="1037.6">1006</text><text x="883" y="961.6">1008</text>
</g>
<text transform="translate(34 1090.5) rotate(-90)" font-size="12.8" text-anchor="middle" fill="#000">Wind</text>
<text transform="translate(34.5 1466) rotate(-90)" font-size="12.8" text-anchor="middle" fill="#000">ACE</text>
<text transform="translate(943 1093) rotate(-90)" font-size="12.8" text-anchor="middle" fill="#000">Pressure</text>

<!-- ================= BOTTOM RIGHT ================= -->
<g clip-path="url(#cbr)">
<rect x="983.3" y="902.7" width="750" height="750.6" fill="#fff"/>
<g transform="translate(983.3 902.7) scale(0.4847)">
<path d="M8,8 L1547,8 L1547,400 L1530,1000 L1510,1512 L700,1522 L10,1532 Z" fill="#888888"/>
<path d="M8,8 L140,8 L140,100 L190,110 L190,210 L245,210 L245,295 L270,295 L270,355 L330,355 L325,440 L290,440 L290,470 L255,470 L250,560 L215,560 L215,590 L185,590 L170,800 L195,800 L195,885 L220,885 L215,970 L180,970 L180,1000 L150,1000 L148,1030 L115,1030 L105,1240 L65,1240 L60,1270 L30,1270 L25,1385 L40,1385 L40,1530 L10,1532 Z" fill="#555555"/>
<path d="M760,8 L1547,8 L1547,400 L1530,1000 L1510,1512 L760,1522 Z" fill="#6e6e6e"/>
<path d="M750,8 L885,8 L880,110 L905,110 L905,255 L890,320 L860,320 L860,345 L885,345 L880,435 L850,435 L848,495 L875,495 L870,525 L845,525 L838,610 L895,610 L895,640 L920,640 L920,790 L945,790 L940,870 L965,870 L965,935 L930,935 L930,990 L958,990 L962,1018 L990,1018 L990,990 L1090,985 L1085,930 L1060,930 L1070,812 L1130,812 L1130,870 L1160,870 L1160,840 L1195,840 L1195,812 L1255,812 L1255,840 L1282,840 L1280,900 L1250,900 L1245,1010 L1210,1018 L1205,1080 L1170,1080 L1165,1195 L1195,1195 L1190,1250 L1215,1250 L1215,1310 L1185,1310 L1185,1340 L1090,1340 L1085,1370 L1052,1370 L1050,1400 L1020,1400 L1015,1460 L1045,1460 L1010,1490 L1010,1520 L750,1522 Z" fill="#a0a0a0"/>
<path d="M1075,8 L1547,8 L1547,222 L1520,225 L1515,285 L1482,285 L1480,315 L1420,315 L1420,340 L1390,345 L1390,370 L1295,370 L1295,345 L1240,345 L1240,288 L1180,285 L1180,232 L1160,230 L1155,165 L1130,140 L1125,80 L1100,80 Z" fill="#bababa"/>
<path d="M945,8 L1075,8 L1100,80 L1125,80 L1130,140 L1155,165 L1160,230 L1180,232 L1180,285 L1240,288 L1240,345 L1295,345 L1295,370 L1390,370 L1390,345 L1420,340 L1420,315 L1480,315 L1482,285 L1515,285 L1520,225 L1547,222 L1547,460 L1510,460 L1505,400 L1478,398 L1385,400 L1380,430 L1285,432 L1285,462 L1100,462 L1100,435 L1075,435 L1075,405 L1045,405 L1045,345 L1015,345 L1020,228 L995,228 L995,200 L1025,200 L1025,170 L1000,170 L1000,115 L975,115 L975,55 L945,55 Z" fill="#3c3c3c"/>
<path d="M1547,490 L1530,495 L1500,520 L1495,605 L1465,608 L1430,640 L1395,665 L1385,780 L1350,800 L1340,900 L1310,900 L1310,955 L1335,960 L1330,1075 L1300,1080 L1300,1100 L1415,1100 L1415,1160 L1350,1165 L1345,1280 L1400,1285 L1400,1340 L1335,1340 L1335,1400 L1270,1400 L1265,1430 L1235,1430 L1230,1512 L1510,1510 L1530,1000 L1547,400 Z" fill="#bbbbbb"/>
<path d="M1505,455 L1547,455 L1547,490 L1530,495 L1500,520 L1495,605 L1465,608 L1430,640 L1395,665 L1385,780 L1350,800 L1340,900 L1310,900 L1310,955 L1335,960 L1330,1075 L1300,1080 L1300,1100 L1415,1100 L1415,1160 L1350,1165 L1345,1280 L1400,1285 L1400,1340 L1335,1340 L1335,1400 L1270,1400 L1265,1430 L1235,1430 L1230,1515 L1200,1515 L1200,1430 L1240,1420 L1240,1310 L1280,1310 L1280,1220 L1255,1220 L1250,1165 L1230,1165 L1230,1015 L1245,1015 L1250,960 L1275,960 L1280,900 L1310,895 L1320,780 L1355,770 L1360,660 L1390,630 L1395,605 L1425,600 L1430,520 L1465,515 L1470,455 Z" fill="#3c3c3c"/>
<path d="M1120,580 L1180,580 L1180,605 L1210,605 L1210,635 L1270,635 L1270,665 L1298,665 L1298,690 L1265,690 L1265,720 L1110,720 L1110,690 L1080,690 L1085,610 L1120,610 Z" fill="#3c3c3c"/>
<rect x="1295" y="722" width="30" height="28" fill="#a0a0a0"/>
<path d="M450,8 L448,60 L415,60 L412,118 L470,118 L470,178 L497,178 L497,205 L525,205 L520,440 L538,440 L538,467 L505,467 L500,555 L468,555 L460,675 L490,675 L490,705 L515,705 L510,820 L478,820 L475,850 L442,850 L440,882 L410,882 L400,998 L460,998 L455,1110 L480,1110 L480,1172 L505,1172 L500,1260 L530,1260 L528,1318 L555,1318 L555,1348 L522,1348 L515,1495 L480,1495 L478,1528 L697,1522 L705,1420 L715,1288 L748,1288 L750,1258 L722,1258 L725,1170 L697,1170 L700,1080 L675,1080 L678,995 L710,995 L712,965 L745,965 L748,905 L720,905 L730,815 L735,700 L708,700 L708,672 L678,672 L690,520 L700,400 L712,300 L718,140 L690,140 L692,58 L670,58 L668,8 Z" fill="#ffffff"/>
<path d="M668,8 L670,58 L692,58 L690,140 L718,140 L712,300 L700,400 L690,520 L678,672 L708,672 L708,700 L735,700 L730,815 L720,905 L748,905 L745,965 L712,965 L710,995 L678,995 L675,1080 L700,1080 L697,1170 L725,1170 L722,1258 L750,1258 L748,1288 L715,1288 L705,1420 L697,1522 L795,1522 L808,1313 L850,1313 L855,1110 L840,1110 L838,935 L835,880 L815,880 L822,785 L795,785 L800,672 L772,672 L775,550 L765,550 L770,420 L775,230 L805,230 L805,200 L780,200 L785,85 L760,85 L760,8 Z" fill="#000000"/>
</g>
<rect x="996.9" y="920.6" width="178" height="30.6" rx="4" fill="#000"/>
<text x="1002.5" y="939.5" font-size="20.5" font-weight="bold" fill="#fff">WMG Count: 0</text>
</g>
<rect x="983.3" y="902.7" width="750" height="750.6" fill="none" stroke="#000" stroke-width="2.5"/>
</svg>
</body></html>
